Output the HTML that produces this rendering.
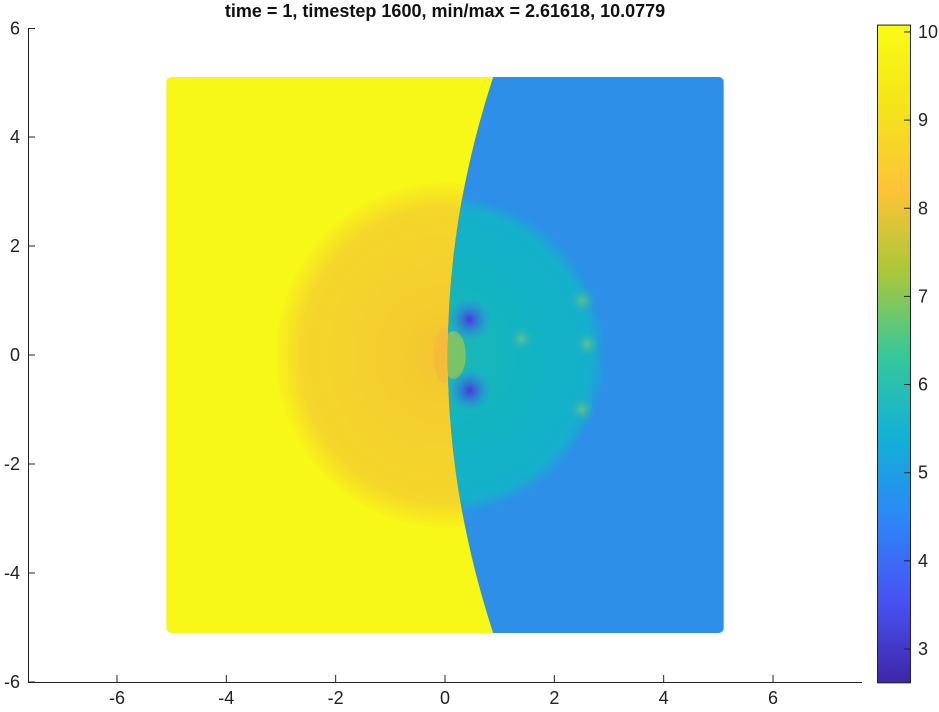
<!DOCTYPE html>
<html><head><meta charset="utf-8"><style>
body{margin:0;background:#fff}
svg{display:block;font-family:"Liberation Sans",Arial,sans-serif}
</style></head><body>
<svg id="c" width="939" height="712">
<defs>
<linearGradient id="parula" x1="0" y1="1" x2="0" y2="0">
<stop offset="0" stop-color="#3e26a8"/><stop offset="0.125" stop-color="#4852f4"/>
<stop offset="0.25" stop-color="#2d87f7"/><stop offset="0.375" stop-color="#12b1d6"/>
<stop offset="0.5" stop-color="#37c897"/><stop offset="0.625" stop-color="#abc739"/>
<stop offset="0.75" stop-color="#fec338"/><stop offset="0.875" stop-color="#f3e41a"/>
<stop offset="1" stop-color="#f9fb14"/></linearGradient>
<radialGradient id="orange" cx="0.5" cy="0.5" r="0.5">
<stop offset="0" stop-color="#f5c232"/><stop offset="0.25" stop-color="#f4cc2e"/>
<stop offset="0.85" stop-color="#f5d62a"/><stop offset="1" stop-color="#f8f418"/></radialGradient>
<radialGradient id="teal" cx="0.5" cy="0.5" r="0.5">
<stop offset="0" stop-color="#1cb8b4"/><stop offset="0.5" stop-color="#12b4c2"/>
<stop offset="0.9" stop-color="#15b0cc"/><stop offset="1" stop-color="#2d8fe8"/></radialGradient>
<radialGradient id="dip" cx="0.5" cy="0.5" r="0.5">
<stop offset="0" stop-color="#4a38d8"/><stop offset="1" stop-color="#2a90e8" stop-opacity="0"/></radialGradient>
<radialGradient id="bump" cx="0.5" cy="0.5" r="0.5">
<stop offset="0" stop-color="#60c08a"/><stop offset="1" stop-color="#13b0cc" stop-opacity="0"/></radialGradient>
<clipPath id="leftClip"><path id="lp"/></clipPath>
<clipPath id="rightClip"><path id="rp"/></clipPath>
</defs>
<g id="plot"></g>
</svg>
<script>
const xTicks=[-6,-4,-2,0,2,4,6];
const yTicks=[-6,-4,-2,0,2,4,6];
const cbTicks=[3,4,5,6,7,8,9,10];
const cMin=2.61618, cMax=10.0779;
const domain=[-5.1,5.1];
const shockX=[0.88,0.05,0.88]; // shock x at top, middle, bottom
const diskR=[3.1,2.95]; // left orange disk radius, right teal disk radius
const dips=[[0.45,0.65],[0.45,-0.65]];
const bumps=[[2.5,1.0],[2.5,-1.0],[2.6,0.2],[1.4,0.3]];
const X=v=>445+v*54.67, Y=v=>355+v*(-54.5);
const CB=v=>649-(v-3)*88.15;
const NS='http://www.w3.org/2000/svg', svg=document.getElementById('c'), g=document.getElementById('plot');
function mk(t,a,p){const e=document.createElementNS(NS,t);for(const k in a)e.setAttribute(k,a[k]);(p||g).appendChild(e);return e;}
const x0=X(domain[0]),x1=X(domain[1]),y0=Y(domain[1]),y1=Y(domain[0]);
const sT=X(shockX[0]),sM=X(shockX[1]),sB=X(shockX[2]);
const cx=2*sM-(sT+sB)/2, cy=Y(0);
const curve=`Q${cx},${cy} ${sB},${y1}`;
document.getElementById('lp').setAttribute('d',`M${x0},${y0}L${sT},${y0}${curve}L${x0},${y1}Z`);
document.getElementById('rp').setAttribute('d',`M${sT},${y0}L${x1},${y0}L${x1},${y1}L${sB},${y1}Q${cx},${cy} ${sT},${y0}Z`);
const lg=mk('g',{'clip-path':'url(#leftClip)'});

mk('rect',{x:x0,y:y0,width:x1-x0,height:y1-y0,rx:5,fill:'#f8f818'},lg);
const r1=diskR[0]*54.6;
mk('ellipse',{cx:X(0),cy:Y(0),rx:r1,ry:r1*1.02,fill:'url(#orange)'},lg);
mk('ellipse',{cx:sM-4,cy:Y(0),rx:10,ry:28,fill:'#f5b83c',opacity:0.7},lg);
const rg=mk('g',{'clip-path':'url(#rightClip)'});

mk('rect',{x:x0,y:y0,width:x1-x0,height:y1-y0,rx:5,fill:'#2d8fe8'},rg);
const r2=diskR[1]*54.6;
mk('circle',{cx:X(0),cy:Y(0),r:r2,fill:'url(#teal)'},rg);
mk('ellipse',{cx:sM+6,cy:Y(0),rx:12,ry:24,fill:'#8cc65a',opacity:0.85},rg);
dips.forEach(d=>{const e=mk('circle',{cx:X(d[0]),cy:Y(d[1]),r:22,fill:'url(#dip)'},rg);});
bumps.forEach(b=>{const e=mk('circle',{cx:X(b[0]),cy:Y(b[1]),r:14,fill:'url(#bump)'},rg);});
// axes
const ax=mk('path',{d:`M28.5,28V682.5H862`,stroke:'#222',fill:'none','stroke-width':1});

xTicks.forEach(t=>{mk('line',{x1:X(t),x2:X(t),y1:682,y2:675,stroke:'#222'});
 const e=mk('text',{x:X(t),y:704,'font-size':18,'text-anchor':'middle',fill:'#222'});e.textContent=t;
 });
yTicks.forEach(t=>{const yy=t===6?28.5:Y(t);mk('line',{x1:28.5,x2:35,y1:yy,y2:yy,stroke:'#222'});
 const e=mk('text',{x:20,y:yy+6,'font-size':18,'text-anchor':'end',fill:'#222'});e.textContent=t;
 });
// colorbar
const cb=mk('rect',{x:877.5,y:CB(cMax),width:33,height:CB(cMin)-CB(cMax),fill:'url(#parula)',stroke:'#222'});

cbTicks.forEach(t=>{mk('line',{x1:904,x2:911,y1:CB(t),y2:CB(t),stroke:'#222'});
 const e=mk('text',{x:918,y:CB(t)+6,'font-size':18,fill:'#222'});e.textContent=t;
 });
const ti=mk('text',{x:445,y:17,'font-size':18,'font-weight':'bold','text-anchor':'middle',fill:'#111'});
ti.textContent='time = 1, timestep 1600, min/max = 2.61618, 10.0779';

</script>
</body></html>
